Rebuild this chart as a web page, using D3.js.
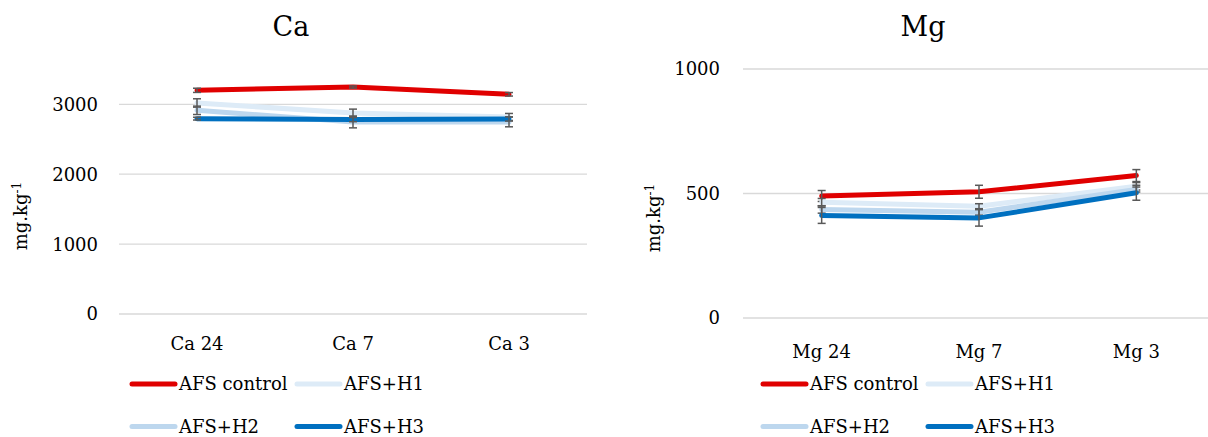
<!DOCTYPE html>
<html><head><meta charset="utf-8">
<script src="https://cdn.jsdelivr.net/npm/d3@7"></script>
<style>
body{margin:0;background:#fff;}
svg{display:block;font-family:"DejaVu Serif",serif;}
</style></head>
<body><svg id="c" width="1208" height="437"></svg>
<script>
const seriesNames = ["AFS control","AFS+H1","AFS+H2","AFS+H3"];
const seriesColors = ["#E00000","#DDEBF7","#BDD7EE","#0070C0"];

const caCategories = ["Ca 24","Ca 7","Ca 3"];
const caControl = [3200, 3247, 3143];
const caH1 = [3019, 2876, 2819];
const caH2 = [2914, 2748, 2748];
const caH3 = [2795, 2781, 2790];
const caErrControl = [30, 15, 25];
const caErrH1 = [60, 55, 50];
const caErrH2 = [60, 85, 70];
const caErrH3 = [20, 30, 30];
const caTicks = [0, 1000, 2000, 3000];

const mgCategories = ["Mg 24","Mg 7","Mg 3"];
const mgControl = [490, 507, 572];
const mgH1 = [465, 449, 529];
const mgH2 = [436, 425, 516];
const mgH3 = [412, 402, 503];
const mgErrControl = [22, 26, 24];
const mgErrH1 = [15, 10, 15];
const mgErrH2 = [15, 12, 10];
const mgErrH3 = [32, 33, 30];
const mgTicks = [0, 500, 1000];

const svg = d3.select("#c");

function panel(cfg){
  const g = svg.append("g");
  const x = d3.scalePoint().domain(cfg.categories).range(cfg.xr).padding(0.5);
  const y = d3.scaleLinear().domain(cfg.ydom).range(cfg.yr);
  g.append("g").selectAll("line").data(cfg.ticks).join("line")
    .attr("x1", cfg.xr[0]).attr("x2", cfg.xr[1])
    .attr("y1", d=>y(d)).attr("y2", d=>y(d))
    .attr("stroke","#D9D9D9").attr("stroke-width",1.3);
  g.append("g").selectAll("text").data(cfg.ticks).join("text")
    .attr("x", cfg.tickX).attr("y", d=>y(d)).attr("dy","0.36em")
    .attr("text-anchor","end").attr("font-size",18).attr("fill","#000")
    .text(d=>d);
  g.append("g").selectAll("text").data(cfg.categories).join("text")
    .attr("x", d=>x(d)).attr("y", cfg.catY)
    .attr("text-anchor","middle").attr("font-size",18).attr("fill","#000")
    .text(d=>d);
  g.append("text").attr("x", cfg.titleX).attr("y", 36).attr("text-anchor","middle")
    .attr("font-size",27).attr("fill","#000").text(cfg.title);
  const yt = g.append("text").attr("transform",`translate(${cfg.ytX},${cfg.ytY}) rotate(-90)`)
    .attr("text-anchor","middle").attr("font-size",18).attr("fill","#000");
  yt.append("tspan").text("mg.kg");
  yt.append("tspan").attr("dy","-0.5em").attr("font-size",12).text("-1");

  const line = d3.line().x((d,i)=>x(cfg.categories[i])).y(d=>y(d));
  cfg.values.forEach((vals,si)=>{
    g.append("path").datum(vals).attr("d", line)
      .attr("fill","none").attr("stroke", seriesColors[si]).attr("stroke-width",5)
      .attr("stroke-linejoin","round").attr("stroke-linecap","round");
    const errs = cfg.errors[si];
    const eg = g.append("g").attr("stroke","#595959").attr("stroke-width",1.5);
    vals.forEach((v,i)=>{
      const cx = x(cfg.categories[i]);
      const y1 = y(v+errs[i]), y2 = y(v-errs[i]);
      eg.append("line").attr("x1",cx).attr("x2",cx).attr("y1",y1).attr("y2",y2);
      eg.append("line").attr("x1",cx-4).attr("x2",cx+4).attr("y1",y1).attr("y2",y1);
      eg.append("line").attr("x1",cx-4).attr("x2",cx+4).attr("y1",y2).attr("y2",y2);
    });
  });
  const lg = g.append("g");
  seriesNames.forEach((n,i)=>{
    const col = i%2, row = Math.floor(i/2);
    const lx = cfg.legX + col*cfg.legDX, ly = 384 + row*42.5;
    lg.append("line").attr("x1",lx).attr("x2",lx+43).attr("y1",ly).attr("y2",ly)
      .attr("stroke",seriesColors[i]).attr("stroke-width",5).attr("stroke-linecap","round");
    lg.append("text").attr("x",lx+47).attr("y",ly).attr("dy","0.36em")
      .attr("font-size",18).attr("fill","#000").text(n);
  });
}

panel({title:"Ca", titleX:291, categories:caCategories, xr:[119,587], ydom:[0,3000], yr:[314,104.3],
  ticks:caTicks, tickX:98, catY:350, ytX:27, ytY:216,
  values:[caControl,caH1,caH2,caH3], errors:[caErrControl,caErrH1,caErrH2,caErrH3],
  legX:132, legDX:165});
panel({title:"Mg", titleX:923, categories:mgCategories, xr:[743,1215], ydom:[0,1000], yr:[318,69],
  ticks:mgTicks, tickX:720, catY:358, ytX:660, ytY:218,
  values:[mgControl,mgH1,mgH2,mgH3], errors:[mgErrControl,mgErrH1,mgErrH2,mgErrH3],
  legX:763, legDX:165});
</script></body></html>
